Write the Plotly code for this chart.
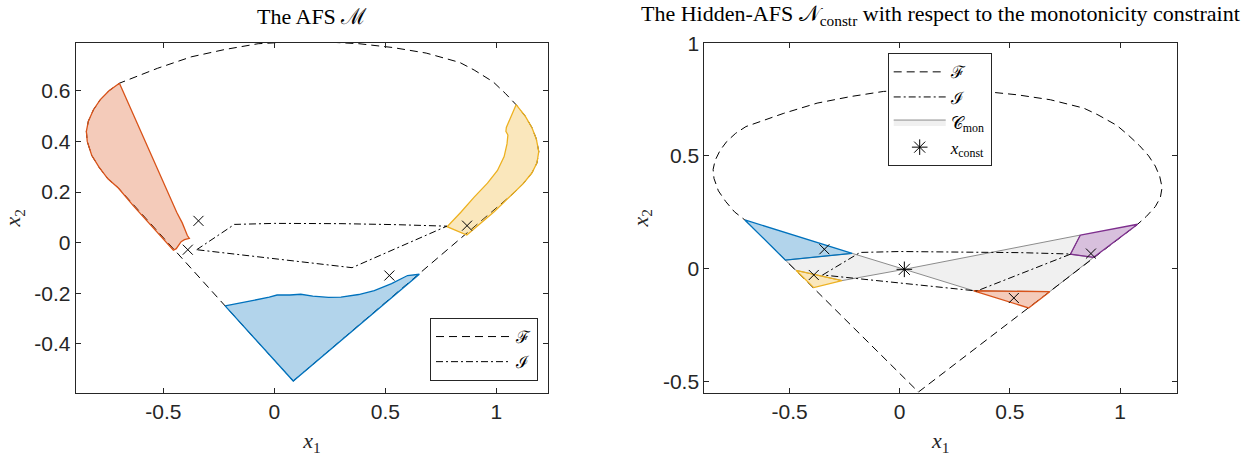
import plotly.graph_objects as go

# ---- feasible set boundary F (closed curve) ----
F_x1 = [0.085, 1.080, 1.120, 1.160, 1.183, 1.191, 1.180, 1.160, 1.130, 1.089, 1.040, 0.986,
        0.900, 0.835, 0.684, 0.533, 0.381, 0.230, 0.079, -0.073, -0.224, -0.375, -0.526,
        -0.600, -0.698, -0.745, -0.785, -0.815, -0.838, -0.847, -0.843, -0.823, -0.790,
        -0.750, -0.703, 0.085]
F_x2 = [-0.547, 0.197, 0.232, 0.275, 0.315, 0.360, 0.410, 0.455, 0.500, 0.545, 0.590, 0.635,
        0.682, 0.712, 0.749, 0.771, 0.786, 0.793, 0.793, 0.786, 0.763, 0.734, 0.689,
        0.663, 0.630, 0.600, 0.564, 0.525, 0.480, 0.440, 0.400, 0.345, 0.298,
        0.252, 0.216, -0.547]

# ---- initial estimates I (closed curve) ----
I_x1 = [-0.350, -0.180, 0.000, 0.300, 0.550, 0.777, 0.350, -0.350]
I_x2 = [-0.028, 0.072, 0.076, 0.075, 0.071, 0.065, -0.099, -0.028]

# ---- AFS segments ----
afs_red_x1 = [-0.698, -0.440, -0.415, -0.402, -0.392, -0.383, -0.405, -0.420, -0.432, -0.442,
              -0.455, -0.550, -0.635, -0.703, -0.750, -0.790, -0.823, -0.843, -0.847, -0.838,
              -0.815, -0.785, -0.745, -0.698]
afs_red_x2 = [0.630, 0.120, 0.078, 0.050, 0.028, 0.017, 0.012, 0.004, -0.010, -0.024,
              -0.030, 0.062, 0.145, 0.216, 0.252, 0.298, 0.345, 0.400, 0.440, 0.480,
              0.525, 0.564, 0.600, 0.630]

afs_blue_x1 = [-0.222, 0.085, 0.653, 0.600, 0.528, 0.450, 0.380, 0.300, 0.244, 0.173, 0.119,
               0.101, 0.070, 0.012, -0.023, -0.094, -0.222]
afs_blue_x2 = [-0.250, -0.547, -0.125, -0.130, -0.162, -0.190, -0.205, -0.215, -0.216, -0.211,
               -0.204, -0.205, -0.207, -0.207, -0.215, -0.228, -0.250]

afs_yellow_x1 = [1.089, 1.060, 1.045, 1.043, 1.052, 1.048, 1.035, 1.005, 0.960, 0.900, 0.840,
                 0.778, 0.867, 0.990, 1.080, 1.120, 1.160, 1.183, 1.191, 1.180, 1.160, 1.130, 1.089]
afs_yellow_x2 = [0.545, 0.490, 0.455, 0.440, 0.425, 0.390, 0.340, 0.285, 0.235, 0.180, 0.120,
                 0.063, 0.030, 0.122, 0.197, 0.232, 0.275, 0.315, 0.360, 0.410, 0.455, 0.500, 0.545]

# ---- Hidden-AFS segments ----
hid_blue_x1 = [-0.703, -0.216, -0.519, -0.703]
hid_blue_x2 = [0.216, 0.068, 0.038, 0.216]
hid_yellow_x1 = [-0.470, -0.262, -0.390, -0.470]
hid_yellow_x2 = [-0.008, -0.053, -0.084, -0.008]
hid_red_x1 = [0.336, 0.681, 0.585, 0.336]
hid_red_x2 = [-0.098, -0.102, -0.174, -0.098]
hid_purple_x1 = [0.820, 1.080, 0.880, 0.775, 0.820]
hid_purple_x2 = [0.149, 0.197, 0.050, 0.064, 0.149]

# monotonicity constraint set C_mon
cmon_x1 = [-0.519, -0.216, 0.021, 0.820, 0.775, 0.880, 0.681, 0.336, 0.021, -0.262, -0.470, -0.519]
cmon_x2 = [0.038, 0.068, -0.003, 0.149, 0.064, 0.050, -0.102, -0.098, -0.003, -0.053, -0.008, 0.038]

# marked points
cross_x1 = [-0.342, -0.390, 0.518, 0.868]
cross_x2 = [0.086, -0.028, -0.130, 0.067]
const_x1 = [0.021]
const_x2 = [-0.003]

# ---- axes ticks ----
left_xticks = [-0.5, 0, 0.5, 1]
left_xlabels = ["-0.5", "0", "0.5", "1"]
left_yticks = [-0.4, -0.2, 0, 0.2, 0.4, 0.6]
left_ylabels = ["-0.4", "-0.2", "0", "0.2", "0.4", "0.6"]
right_xticks = [-0.5, 0, 0.5, 1]
right_xlabels = ["-0.5", "0", "0.5", "1"]
right_yticks = [-0.5, 0, 0.5, 1]
right_ylabels = ["-0.5", "0", "0.5", "1"]

BLUE = "#0072BD"
RED = "#D95319"
YELLOW = "#EDB120"
PURPLE = "#7E2F8E"
AXC = "#262626"
SERIF = "Liberation Serif, DejaVu Serif, serif"
SANS = "Liberation Sans, Arial, sans-serif"


def rgba(hexc, a):
    h = hexc.lstrip("#")
    return "rgba(%d,%d,%d,%.2f)" % (int(h[0:2], 16), int(h[2:4], 16), int(h[4:6], 16), a)


DASH_F = "8px,5px"
DASH_I = "7px,3px,2px,3px"

fig = go.Figure()


def region(xs, ys, color, xa, ya):
    fig.add_trace(go.Scatter(x=xs, y=ys, mode="lines", fill="toself",
                             fillcolor=rgba(color, 0.3), line=dict(color=color, width=1.3),
                             xaxis=xa, yaxis=ya, showlegend=False, hoverinfo="skip"))


# ---------------- left panel ----------------
fig.add_trace(go.Scatter(x=F_x1, y=F_x2, mode="lines", name="ℱ",
                         line=dict(color="black", width=1, dash=DASH_F),
                         xaxis="x", yaxis="y", legend="legend", legendrank=1))
region(afs_red_x1, afs_red_x2, RED, "x", "y")
region(afs_blue_x1, afs_blue_x2, BLUE, "x", "y")
region(afs_yellow_x1, afs_yellow_x2, YELLOW, "x", "y")
fig.add_trace(go.Scatter(x=I_x1, y=I_x2, mode="lines", name="ℐ",
                         line=dict(color="black", width=1, dash=DASH_I),
                         xaxis="x", yaxis="y", legend="legend", legendrank=2))
fig.add_trace(go.Scatter(x=cross_x1, y=cross_x2, mode="markers",
                         marker=dict(symbol="x-thin-open", size=10, color="black",
                                     line=dict(color="black", width=1)),
                         xaxis="x", yaxis="y", showlegend=False))

# ---------------- right panel ----------------
fig.add_trace(go.Scatter(x=cmon_x1, y=cmon_x2, mode="lines", fill="toself", name="𝒞<sub>mon</sub>",
                         fillcolor="rgba(240,240,240,1)", line=dict(color="#8c8c8c", width=1),
                         xaxis="x2", yaxis="y2", legend="legend2", legendrank=3))
fig.add_trace(go.Scatter(x=F_x1, y=F_x2, mode="lines", name="ℱ",
                         line=dict(color="black", width=1, dash=DASH_F),
                         xaxis="x2", yaxis="y2", legend="legend2", legendrank=1))
region(hid_blue_x1, hid_blue_x2, BLUE, "x2", "y2")
region(hid_yellow_x1, hid_yellow_x2, YELLOW, "x2", "y2")
region(hid_red_x1, hid_red_x2, RED, "x2", "y2")
region(hid_purple_x1, hid_purple_x2, PURPLE, "x2", "y2")
fig.add_trace(go.Scatter(x=I_x1, y=I_x2, mode="lines", name="ℐ",
                         line=dict(color="black", width=1, dash=DASH_I),
                         xaxis="x2", yaxis="y2", legend="legend2", legendrank=2))
fig.add_trace(go.Scatter(x=cross_x1, y=cross_x2, mode="markers",
                         marker=dict(symbol="x-thin-open", size=10, color="black",
                                     line=dict(color="black", width=1)),
                         xaxis="x2", yaxis="y2", showlegend=False))
fig.add_trace(go.Scatter(x=const_x1, y=const_x2, mode="markers", name="<i>x</i><sub>const</sub>",
                         marker=dict(symbol="asterisk-open", size=13, color="black",
                                     line=dict(color="black", width=1)),
                         xaxis="x2", yaxis="y2", legend="legend2", legendrank=4))

W, H = 1250, 456
L_dom = [75.7 / W, 548.3 / W]
R_dom = [704.3 / W, 1177.3 / W]
Y_dom = [63.3 / H, 413.3 / H]

axis_common = dict(showline=True, linecolor=AXC, linewidth=1, mirror="ticks", ticks="inside",
                   ticklen=5, tickcolor=AXC, showgrid=False, zeroline=False,
                   tickfont=dict(family=SANS, size=21, color=AXC), automargin=False,
                   tickmode="array")
label_font = dict(family=SERIF, size=22, color=AXC)

fig.update_layout(
    width=W, height=H, margin=dict(l=0, r=0, t=0, b=0),
    paper_bgcolor="white", plot_bgcolor="white",
    xaxis=dict(domain=L_dom, range=[-0.895, 1.234], anchor="y",
               tickvals=left_xticks, ticktext=left_xlabels,
               title=dict(text="<i>x</i><sub>1</sub>", font=label_font, standoff=12),
               **axis_common),
    yaxis=dict(domain=Y_dom, range=[-0.593, 0.790], anchor="x",
               tickvals=left_yticks, ticktext=left_ylabels,
               title=dict(text="<i>x</i><sub>2</sub>", font=label_font, standoff=8),
               **axis_common),
    xaxis2=dict(domain=R_dom, range=[-0.887, 1.260], anchor="y2",
                tickvals=right_xticks, ticktext=right_xlabels,
                title=dict(text="<i>x</i><sub>1</sub>", font=label_font, standoff=12),
                **axis_common),
    yaxis2=dict(domain=Y_dom, range=[-0.550, 1.002], anchor="x2",
                tickvals=right_yticks, ticktext=right_ylabels,
                title=dict(text="<i>x</i><sub>2</sub>", font=label_font, standoff=8),
                **axis_common),
    legend=dict(x=538 / W, xanchor="right", y=(H - 381) / H, yanchor="bottom",
                bgcolor="white", bordercolor=AXC, borderwidth=1, itemwidth=75,
                font=dict(family=SERIF, size=17, color="black")),
    legend2=dict(x=887.7 / W, xanchor="left", y=(H - 53.3) / H, yanchor="top",
                 bgcolor="white", bordercolor=AXC, borderwidth=1, itemwidth=52,
                 font=dict(family=SERIF, size=17, color="black")),
    annotations=[
        dict(text="The AFS ℳ", x=(L_dom[0] + L_dom[1]) / 2, y=(H - 31) / H, xref="paper",
             yref="paper", xanchor="center", yanchor="bottom", showarrow=False,
             font=dict(family=SERIF, size=22, color="black")),
        dict(text="The Hidden-AFS 𝒩<sub>constr</sub> with respect to the monotonicity constraint",
             x=(R_dom[0] + R_dom[1]) / 2, y=(H - 31) / H, xref="paper", yref="paper",
             xanchor="center", yanchor="bottom", showarrow=False,
             font=dict(family=SERIF, size=22, color="black")),
    ],
)

fig.write_html("out.html")
